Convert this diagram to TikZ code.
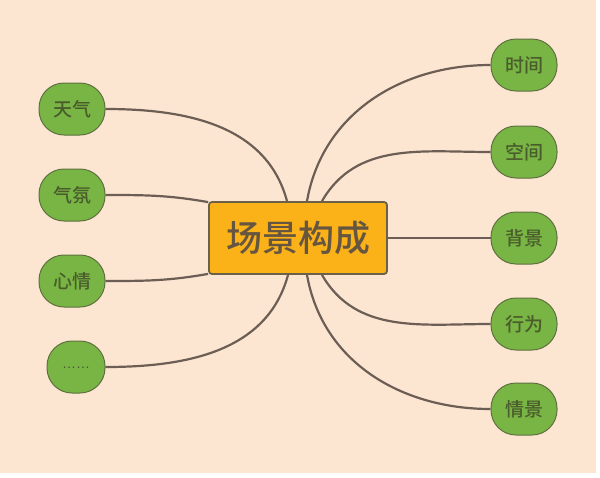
\documentclass[tikz,border=0pt]{standalone}
\usepackage{fontspec}
\setmainfont{Noto Sans CJK SC}
\newfontfamily\mediumfont{Noto Sans CJK SC Medium}
\newfontfamily\dotsfont{Liberation Sans}
\definecolor{peach}{HTML}{FDE6D1}
\definecolor{leaf}{HTML}{78B544}
\definecolor{leafline}{HTML}{5F7040}
\definecolor{leaftext}{HTML}{4A5C2C}
\definecolor{amber}{HTML}{FBB219}
\definecolor{amberline}{HTML}{6B6048}
\definecolor{ambertext}{HTML}{665640}
\definecolor{branch}{HTML}{6C5E55}
\begin{document}
\begin{tikzpicture}[x=1pt,y=-1pt,
    topic/.style={rectangle, draw=amberline, line width=1.8pt, fill=amber, rounded corners=3pt,
      minimum width=178pt, minimum height=72pt, text=ambertext,
      font=\mediumfont\fontsize{36}{40}\selectfont},
    leafbox/.style={rectangle, draw=leafline, line width=1pt, fill=leaf, rounded corners=25pt,
      minimum width=66pt, minimum height=52pt, text=leaftext, inner sep=0pt,
      font=\mediumfont\fontsize{19}{22}\selectfont},
    branchline/.style={draw=branch, line width=2.2pt}]
    \useasboundingbox (0,0) rectangle (600,477);
    \fill[peach] (0,0) rectangle (596,473);
    % centre
    \node[topic] (scene) at (298,238) {场景构成};
    % left side
    \node[leafbox] (weather) at (72,109) {天气};
    \node[leafbox] (mood) at (72,195) {气氛};
    \node[leafbox] (feeling) at (72,281) {心情};
    \node[leafbox, minimum width=58pt] (more) at (76,367) {\dotsfont\fontsize{14}{16}\selectfont\raisebox{-3pt}{……}};
    % right side
    \node[leafbox] (time) at (524,65) {时间};
    \node[leafbox] (space) at (524,152) {空间};
    \node[leafbox] (setting) at (524,238) {背景};
    \node[leafbox] (action) at (524,324) {行为};
    \node[leafbox] (situation) at (524,409) {情景};
    \draw[branchline] (weather.east) to[out=0,in=105] ([xshift=-11pt]scene.north);
    \draw[branchline] (mood.east) to[out=0,in=170] ([yshift=-1pt]scene.north west);
    \draw[branchline] (feeling.east) to[out=0,in=190] ([yshift=1pt]scene.south west);
    \draw[branchline] (more.east) to[out=0,in=-105] ([xshift=-10pt]scene.south);
    \draw[branchline] (time.west) to[out=180,in=80] ([xshift=9pt]scene.north);
    \draw[branchline] (space.west) to[out=180,in=60] ([xshift=24pt]scene.north);
    \draw[branchline] (scene.east) -- (setting.west);
    \draw[branchline] (action.west) to[out=180,in=-60] ([xshift=24pt]scene.south);
    \draw[branchline] (situation.west) to[out=180,in=-80] ([xshift=9pt]scene.south);
\end{tikzpicture}
\end{document}
